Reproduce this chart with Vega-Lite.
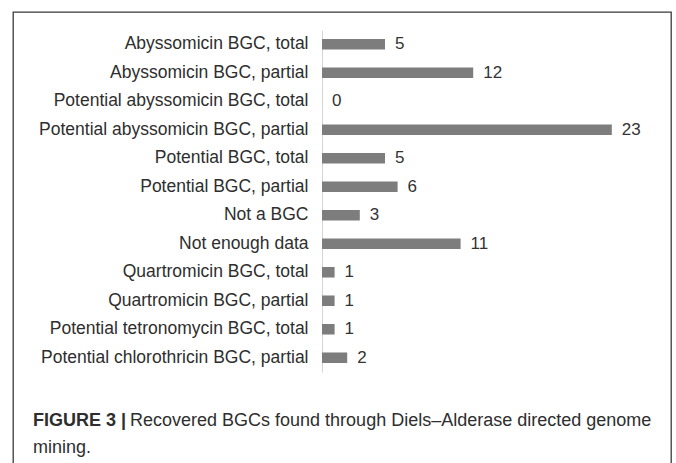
{
  "$schema": "https://vega.github.io/schema/vega-lite/v6.json",
  "autosize": "none",
  "width": 658,
  "height": 470,
  "padding": {"left": 13, "top": 12, "right": 5, "bottom": -19},
  "background": "white",
  "config": {
    "view": {"stroke": "#3a3a3a", "strokeWidth": 1.3},
    "font": "Liberation Sans",
    "text": {"font": "Liberation Sans"}
  },
  "data": {
    "values": [
      {"category": "Abyssomicin BGC, total", "count": 5},
      {"category": "Abyssomicin BGC, partial", "count": 12},
      {"category": "Potential abyssomicin BGC, total", "count": 0},
      {"category": "Potential abyssomicin BGC, partial", "count": 23},
      {"category": "Potential BGC, total", "count": 5},
      {"category": "Potential BGC, partial", "count": 6},
      {"category": "Not a BGC", "count": 3},
      {"category": "Not enough data", "count": 11},
      {"category": "Quartromicin BGC, total", "count": 1},
      {"category": "Quartromicin BGC, partial", "count": 1},
      {"category": "Potential tetronomycin BGC, total", "count": 1},
      {"category": "Potential chlorothricin BGC, partial", "count": 2}
    ]
  },
  "layer": [
    {
      "mark": {"type": "bar", "fill": "#7d7d7d"},
      "encoding": {
        "y": {
          "field": "category", "type": "nominal", "sort": null,
          "scale": {"range": [18, 360], "paddingInner": 0.63, "paddingOuter": 0.315},
          "axis": {
            "orient": "left", "offset": -309, "title": null, "ticks": false,
            "domainColor": "#d4d4d4", "domainWidth": 1,
            "labelFontSize": 17.5, "labelColor": "#2e2e2e", "labelPadding": 14,
            "labelFont": "Liberation Sans", "labelLimit": 400, "grid": false
          }
        },
        "x": {
          "field": "count", "type": "quantitative",
          "scale": {"domain": [-24.524, 27.698], "nice": false, "zero": false},
          "axis": null
        },
        "x2": {"datum": 0}
      }
    },
    {
      "mark": {"type": "text", "align": "left", "baseline": "middle", "dx": 10, "fontSize": 17, "color": "#333333"},
      "encoding": {
        "y": {"field": "category", "type": "nominal", "sort": null},
        "x": {"field": "count", "type": "quantitative"},
        "text": {"field": "count", "type": "quantitative"}
      }
    },
    {
      "data": {"values": [{"caption": "FIGURE 3 |"}]},
      "mark": {"type": "text", "align": "left", "baseline": "alphabetic", "fontSize": 18, "fontWeight": "bold", "color": "#2e2e2e"},
      "encoding": {
        "x": {"value": 20},
        "y": {"value": 414},
        "text": {"field": "caption"}
      }
    },
    {
      "data": {"values": [{"caption": "Recovered BGCs found through Diels–Alderase directed genome"}]},
      "mark": {"type": "text", "align": "left", "baseline": "alphabetic", "fontSize": 18, "color": "#2e2e2e"},
      "encoding": {
        "x": {"value": 117},
        "y": {"value": 414},
        "text": {"field": "caption"}
      }
    },
    {
      "data": {"values": [{"caption": "mining."}]},
      "mark": {"type": "text", "align": "left", "baseline": "alphabetic", "fontSize": 18, "color": "#2e2e2e"},
      "encoding": {
        "x": {"value": 20},
        "y": {"value": 441},
        "text": {"field": "caption"}
      }
    }
  ]
}
